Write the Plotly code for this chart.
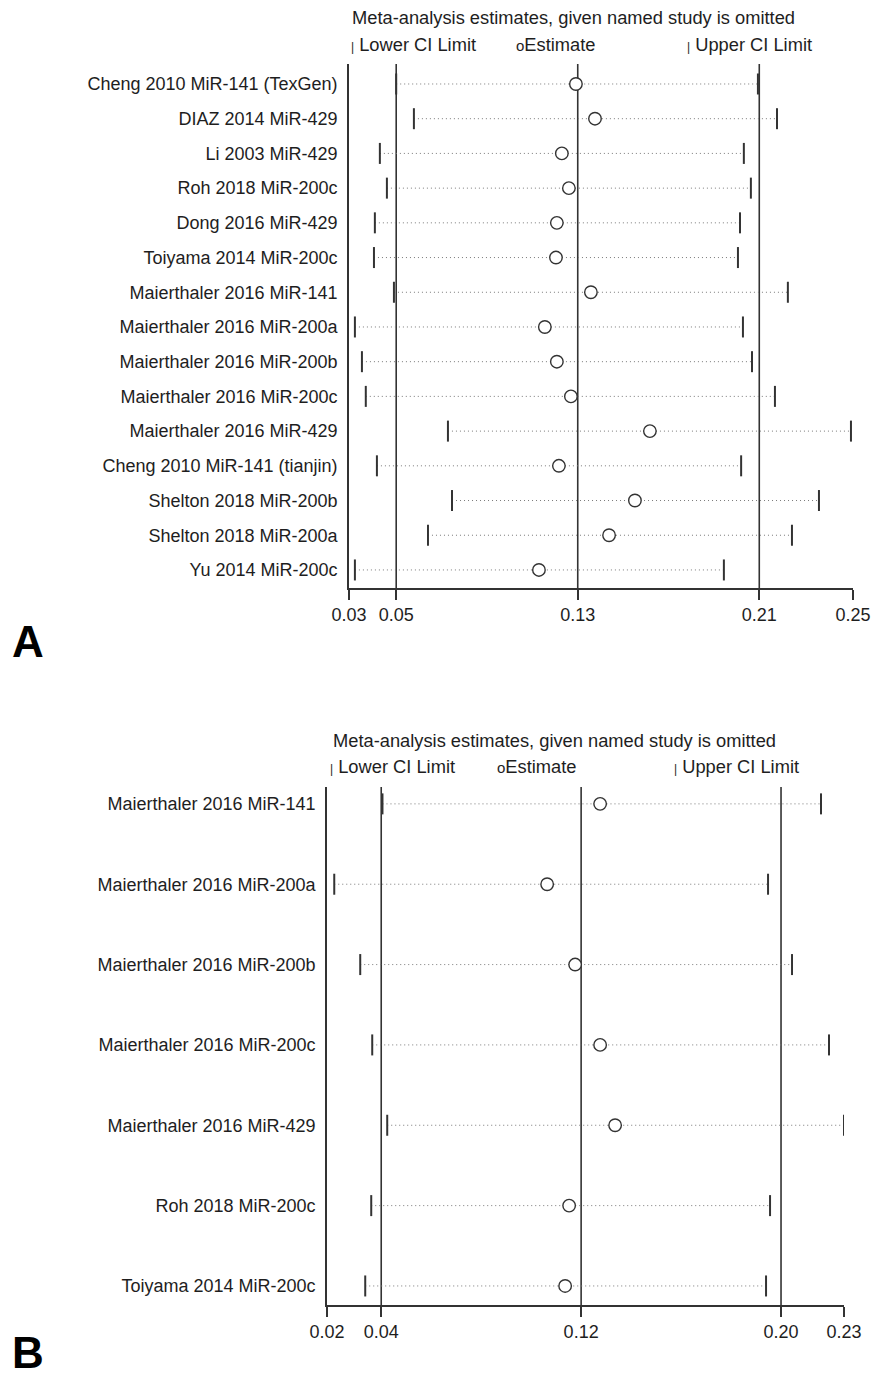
import plotly.graph_objects as go

# Panel A: influence analysis, all studies
studies_a = [
    "Cheng 2010 MiR-141 (TexGen)", "DIAZ 2014 MiR-429", "Li 2003 MiR-429",
    "Roh 2018 MiR-200c", "Dong 2016 MiR-429", "Toiyama 2014 MiR-200c",
    "Maierthaler 2016 MiR-141", "Maierthaler 2016 MiR-200a",
    "Maierthaler 2016 MiR-200b", "Maierthaler 2016 MiR-200c",
    "Maierthaler 2016 MiR-429", "Cheng 2010 MiR-141 (tianjin)",
    "Shelton 2018 MiR-200b", "Shelton 2018 MiR-200a", "Yu 2014 MiR-200c",
]
lower_a = [0.0500, 0.0578, 0.0428, 0.0459, 0.0406, 0.0402, 0.0490, 0.0318,
           0.0349, 0.0366, 0.0728, 0.0415, 0.0746, 0.0640, 0.0318]
est_a = [0.1292, 0.1376, 0.1230, 0.1261, 0.1208, 0.1204, 0.1358, 0.1155,
         0.1208, 0.1270, 0.1618, 0.1217, 0.1552, 0.1438, 0.1129]
upper_a = [0.2094, 0.2178, 0.2032, 0.2063, 0.2015, 0.2006, 0.2226, 0.2028,
           0.2068, 0.2169, 0.2504, 0.2020, 0.2363, 0.2244, 0.1944]
range_a = [0.0292, 0.2513]
ref_a = [0.05, 0.13, 0.21]
ticks_a = [0.0292, 0.05, 0.13, 0.21, 0.2513]
ticktext_a = ["0.03", "0.05", "0.13", "0.21", "0.25"]

# Panel B: influence analysis, subgroup
studies_b = [
    "Maierthaler 2016 MiR-141", "Maierthaler 2016 MiR-200a",
    "Maierthaler 2016 MiR-200b", "Maierthaler 2016 MiR-200c",
    "Maierthaler 2016 MiR-429", "Roh 2018 MiR-200c", "Toiyama 2014 MiR-200c",
]
lower_b = [0.0405, 0.0212, 0.0316, 0.0364, 0.0424, 0.0360, 0.0336]
est_b = [0.1276, 0.1064, 0.1176, 0.1276, 0.1336, 0.1152, 0.1136]
upper_b = [0.2160, 0.1948, 0.2044, 0.2192, 0.2252, 0.1956, 0.1940]
range_b = [0.0183, 0.2252]
ref_b = [0.04, 0.12, 0.20]
ticks_b = [0.0183, 0.04, 0.12, 0.20, 0.2252]
ticktext_b = ["0.02", "0.04", "0.12", "0.20", "0.23"]

W, H = 877, 1379
FONT = "Liberation Sans, Arial, sans-serif"
DARK = "#333333"
DOT = "#7a7a7a"
TEXT = "#1e1e1e"


def px(x):
    return x / W


def py(y):
    return 1 - y / H


fig = go.Figure()


def add_panel(names, lo, est, hi, xa, ya):
    rows = list(range(1, len(names) + 1))
    xs, ys = [], []
    for r, a, b in zip(rows, lo, hi):
        xs += [a, b, None]
        ys += [r, r, None]
    fig.add_trace(go.Scatter(x=xs, y=ys, mode="lines", xaxis=xa, yaxis=ya,
                             line=dict(color=DOT, width=1, dash="1px,3px"),
                             hoverinfo="skip", showlegend=False))
    for vals in (lo, hi):
        fig.add_trace(go.Scatter(x=vals, y=rows, mode="markers", xaxis=xa, yaxis=ya,
                                 marker=dict(symbol="line-ns", size=15,
                                             line=dict(color=DARK, width=2)),
                                 showlegend=False))
    fig.add_trace(go.Scatter(x=est, y=rows, mode="markers", xaxis=xa, yaxis=ya,
                             marker=dict(symbol="circle", size=12.5, color="white",
                                         line=dict(color=DARK, width=1.4)),
                             showlegend=False))


add_panel(studies_a, lower_a, est_a, upper_a, "x", "y")
add_panel(studies_b, lower_b, est_b, upper_b, "x2", "y2")

shapes = []
for v in ref_a:
    shapes.append(dict(type="line", xref="x", yref="y domain", x0=v, x1=v, y0=0, y1=1,
                       line=dict(color=DARK, width=1.6), layer="below"))
for v in ref_b:
    shapes.append(dict(type="line", xref="x2", yref="y2 domain", x0=v, x1=v, y0=0, y1=1,
                       line=dict(color=DARK, width=1.6), layer="below"))

xaxis_common = dict(showgrid=False, zeroline=False, showline=True, linecolor=DARK,
                    linewidth=1.6, ticks="outside", ticklen=10, tickwidth=1.6,
                    tickcolor=DARK, tickfont=dict(family=FONT, size=18, color=TEXT),
                    fixedrange=True, automargin=False)
yaxis_common = dict(showgrid=False, zeroline=False, showline=True, linecolor=DARK,
                    linewidth=1.6, ticks="", ticklabelstandoff=6,
                    tickfont=dict(family=FONT, size=18, color=TEXT), fixedrange=True,
                    automargin=False)

annotations = []


def header(x0, y_title, y_leg, x_lo, x_est, x_up):
    annotations.append(dict(xref="paper", yref="paper", x=px(x0), y=py(y_title),
                            xanchor="left", yanchor="middle", showarrow=False,
                            text="Meta-analysis estimates, given named study is omitted",
                            font=dict(family=FONT, size=18.3, color=TEXT)))
    for x, txt in ((x_lo, "<span style='font-size:12px'>|</span> Lower CI Limit"),
                   (x_est, "<span style='font-size:15px'>o</span>Estimate"),
                   (x_up, "<span style='font-size:12px'>|</span> Upper CI Limit")):
        annotations.append(dict(xref="paper", yref="paper", x=px(x), y=py(y_leg),
                                xanchor="left", yanchor="middle", showarrow=False,
                                text=txt, font=dict(family=FONT, size=18.3, color=TEXT)))


header(350, 17, 44, 349, 514, 685)
header(331, 740, 766, 328, 495, 672)

annotations.append(dict(xref="paper", yref="paper", x=px(10), y=py(642),
                        xanchor="left", yanchor="middle", showarrow=False,
                        text="<b>A</b>", font=dict(family=FONT, size=44, color="black")))
annotations.append(dict(xref="paper", yref="paper", x=px(10), y=0,
                        xanchor="left", yanchor="bottom", showarrow=False,
                        text="<b>B</b>", font=dict(family=FONT, size=44, color="black")))

fig.update_layout(
    width=W, height=H, margin=dict(l=0, r=0, t=0, b=0, autoexpand=False),
    paper_bgcolor="white", plot_bgcolor="white",
    xaxis=dict(xaxis_common, domain=[px(349), px(853)], range=range_a,
               tickvals=ticks_a, ticktext=ticktext_a, anchor="y"),
    yaxis=dict(yaxis_common, domain=[py(588), py(64)], range=[15.52, 0.424],
               tickvals=list(range(1, len(studies_a) + 1)), ticktext=studies_a,
               anchor="x"),
    xaxis2=dict(xaxis_common, domain=[px(327), px(844)], range=range_b,
                tickvals=ticks_b, ticktext=ticktext_b, anchor="y2"),
    yaxis2=dict(yaxis_common, domain=[py(1305), py(787)], range=[7.237, 0.79],
                tickvals=list(range(1, len(studies_b) + 1)), ticktext=studies_b,
                anchor="x2"),
    shapes=shapes, annotations=annotations, showlegend=False,
)

fig.write_html("out.html")
